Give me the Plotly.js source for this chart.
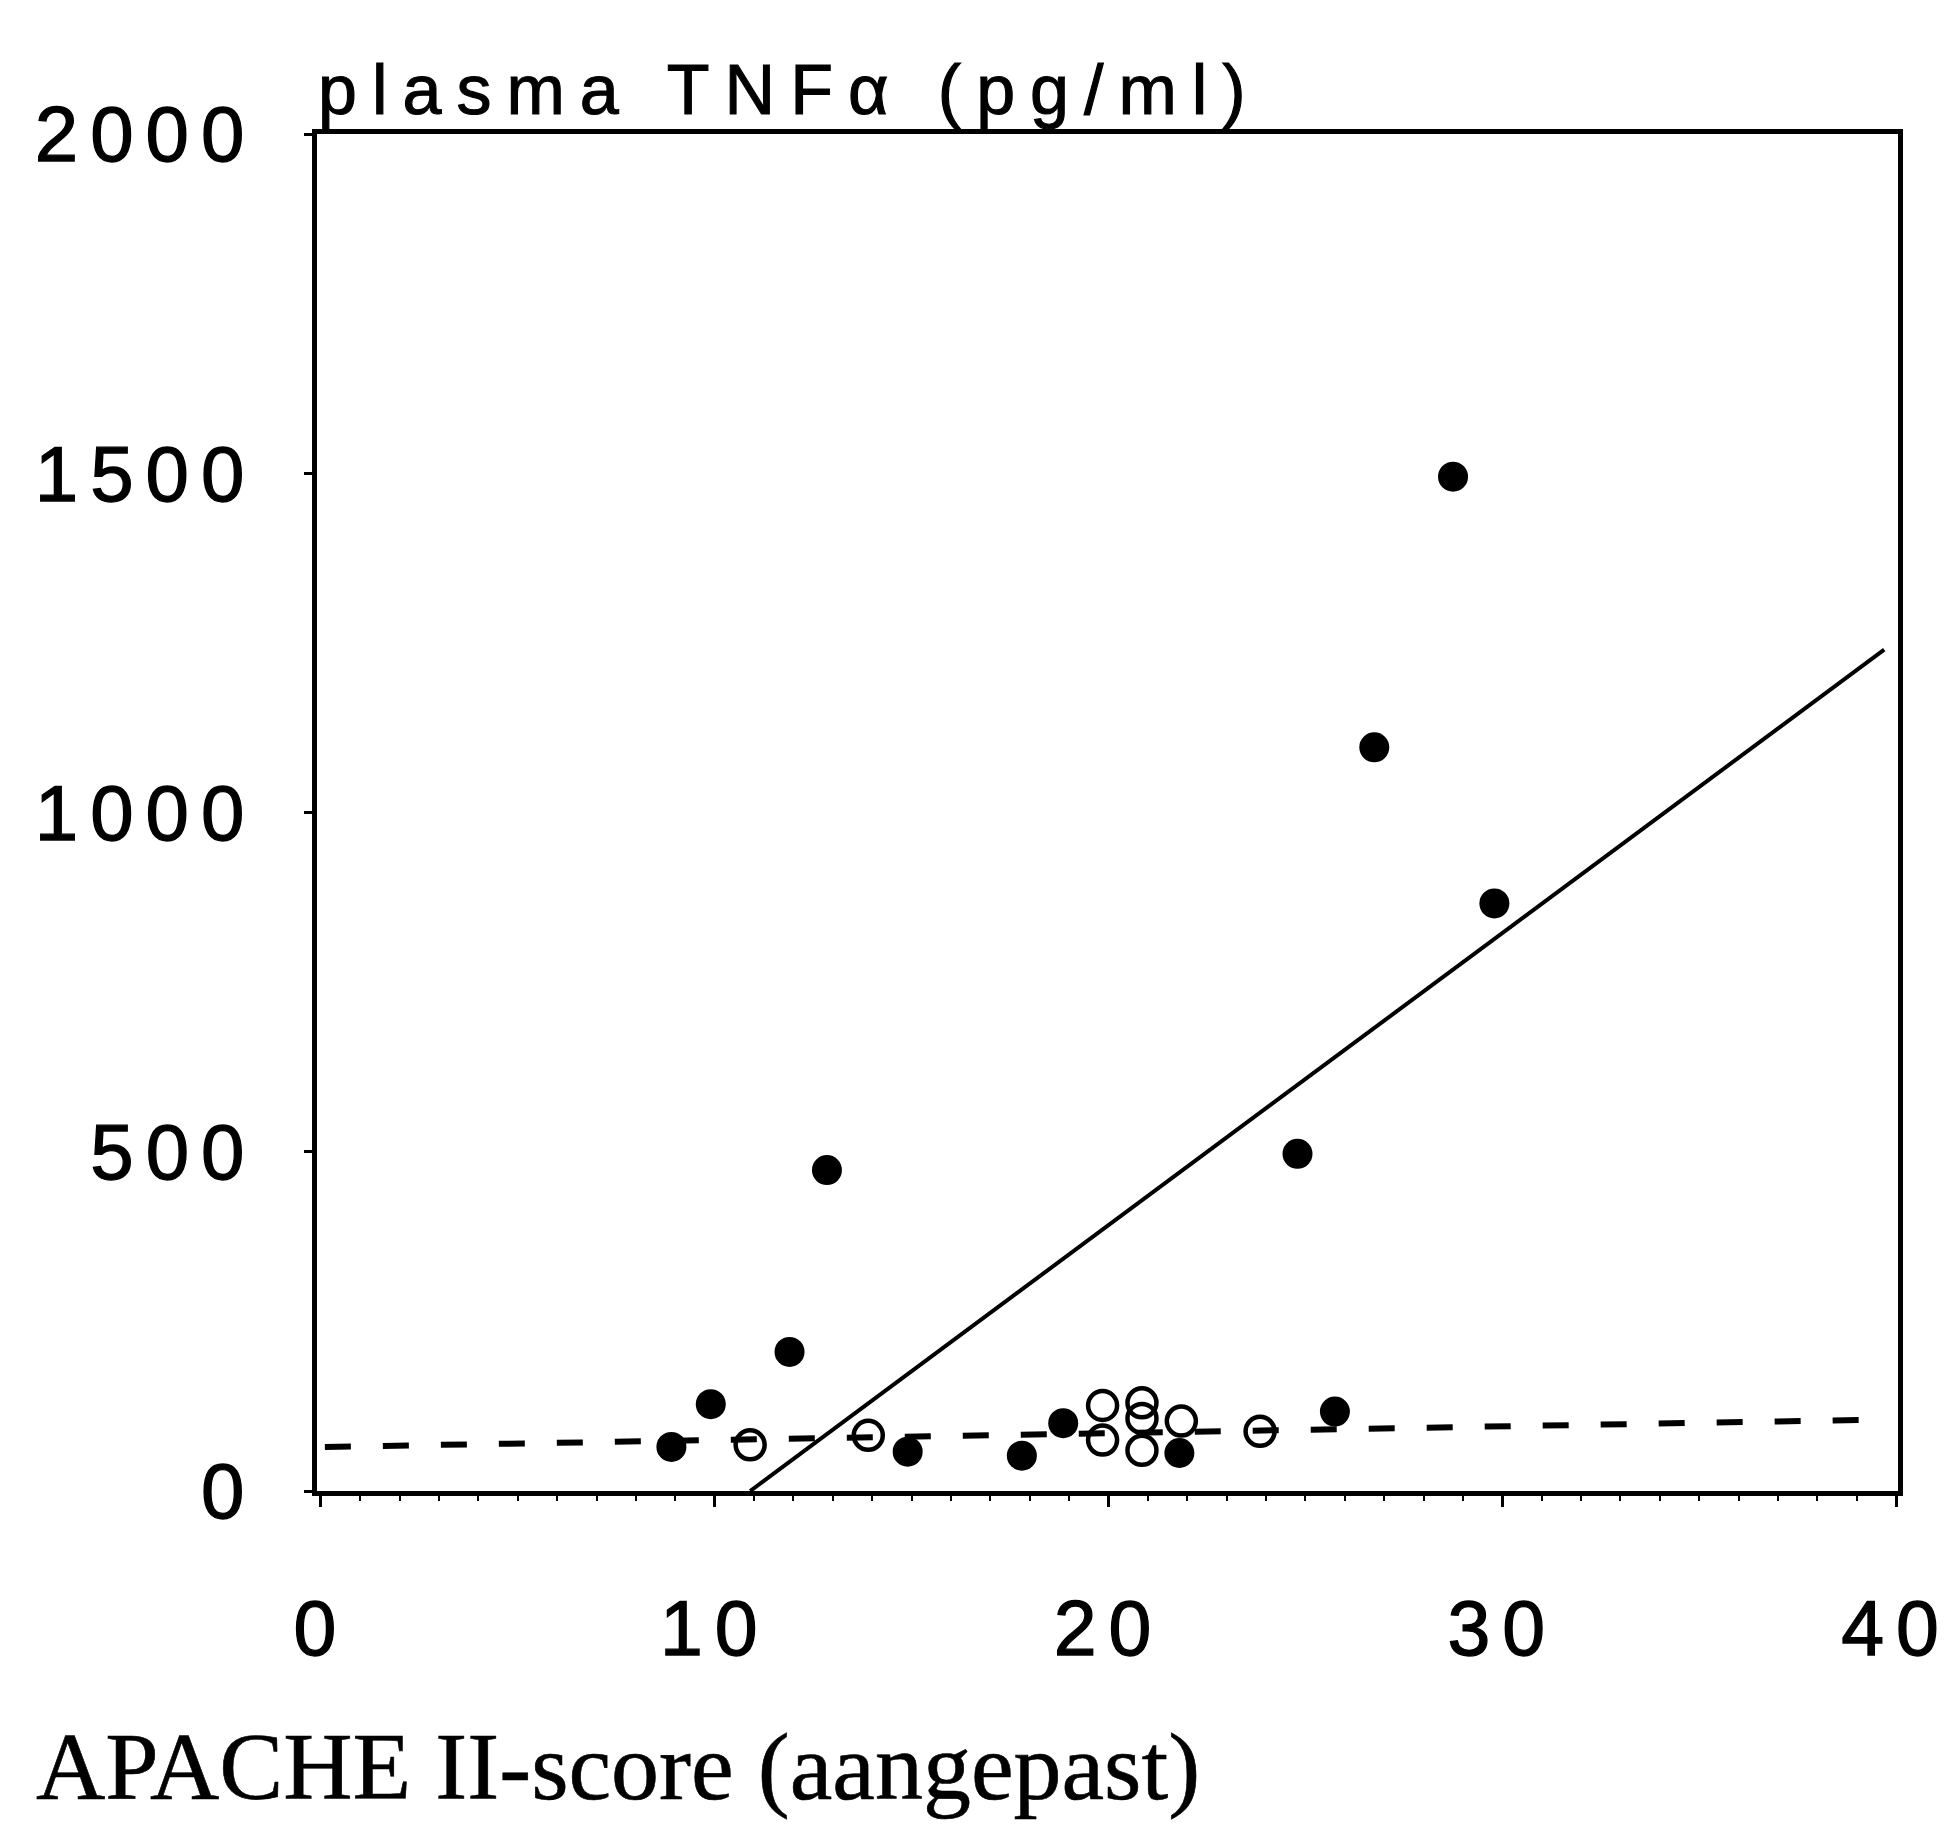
<!DOCTYPE html>
<html>
<head>
<meta charset="utf-8">
<script src="https://cdn.plot.ly/plotly-3.0.1.min.js"></script>
<style>
  html, body { margin: 0; padding: 0; background: #fff; }
  #chart { width: 1958px; height: 1833px; }
  #chart .xtick text, #chart .ytick text { letter-spacing: 12px; stroke: #000; stroke-width: 1.3px; }
  #chart .gtitle { letter-spacing: 15px; stroke: #000; stroke-width: 1.1px; }
  #chart .annotation-text { stroke: #000; stroke-width: 0.6px; }
</style>
</head>
<body>
<div id="chart"></div>
<script>
// APACHE II-score vs plasma TNF-alpha
const filledX = [8.9, 9.9, 11.9, 12.85, 14.9, 17.8, 18.85, 21.8, 24.8, 25.75, 26.75, 28.75, 29.8];
const filledY = [65, 128, 205, 473, 58, 52, 100, 56, 497, 117, 1096, 1495, 866];
const openX = [10.9, 13.9, 19.85, 19.85, 20.85, 20.85, 20.85, 21.85, 23.85];
const openY = [68, 82, 126, 75, 130, 107, 60, 103, 88];
const fitSolidX = [10.9, 39.7];
const fitSolidY = [0, 1240];
const fitDashedX = [0.1, 39.5];
const fitDashedY = [65, 105];
const xTickVals = [0, 10, 20, 30, 40];
const yTickVals = [0, 500, 1000, 1500, 2000];
const yTitle = 'plasma TNFα (pg/ml)';
const xTitle = 'APACHE II-score (aangepast)';

const sans = 'Liberation Sans, Arial, sans-serif';
const serif = 'Liberation Serif, Times New Roman, serif';

const traces = [
  { x: fitDashedX, y: fitDashedY, mode: 'lines', type: 'scatter',
    line: { color: '#000', width: 6, dash: '26px,32px' }, hoverinfo: 'skip' },
  { x: fitSolidX, y: fitSolidY, mode: 'lines', type: 'scatter',
    line: { color: '#000', width: 4 }, hoverinfo: 'skip' },
  { x: openX, y: openY, mode: 'markers', type: 'scatter',
    marker: { symbol: 'circle-open', size: 29, color: '#000', line: { color: '#000', width: 4.5 } } },
  { x: filledX, y: filledY, mode: 'markers', type: 'scatter',
    marker: { symbol: 'circle', size: 30, color: '#000' } }
];

const layout = {
  width: 1958, height: 1833,
  paper_bgcolor: '#fff', plot_bgcolor: '#fff',
  showlegend: false,
  margin: { l: 317, r: 60, t: 134, b: 342 },
  title: {
    text: yTitle,
    font: { family: sans, size: 70, color: '#000' },
    xref: 'container', x: 318 / 1958, xanchor: 'left',
    yref: 'container', y: 1 - 89 / 1833, yanchor: 'middle'
  },
  xaxis: {
    range: [-0.1, 40.05],
    tickvals: xTickVals, ticktext: xTickVals.map(String),
    ticks: 'outside', ticklen: 11, tickwidth: 3, tickcolor: '#000',
    minor: { dtick: 1, ticks: 'outside', ticklen: 5, tickwidth: 2, tickcolor: '#000' },
    showline: true, linecolor: '#000', linewidth: 5, mirror: true,
    showgrid: false, zeroline: false,
    tickfont: { family: sans, size: 77, color: '#000' },
    ticklabelstandoff: 56
  },
  yaxis: {
    range: [0, 2000],
    tickvals: yTickVals, ticktext: yTickVals.map(String),
    ticks: 'outside', ticklen: 8, tickwidth: 3, tickcolor: '#000',
    showline: true, linecolor: '#000', linewidth: 5, mirror: true,
    showgrid: false, zeroline: false,
    tickfont: { family: sans, size: 78, color: '#000' },
    ticklabelstandoff: 32
  },
  annotations: [
    { text: xTitle, xref: 'paper', yref: 'paper',
      x: (34 - 317) / 1581, xanchor: 'left',
      y: -(1766 - 1491) / 1357, yanchor: 'middle',
      showarrow: false, font: { family: serif, size: 96, color: '#000' } }
  ]
};

Plotly.newPlot('chart', traces, layout, { staticPlot: true, displayModeBar: false });
</script>
</body>
</html>
